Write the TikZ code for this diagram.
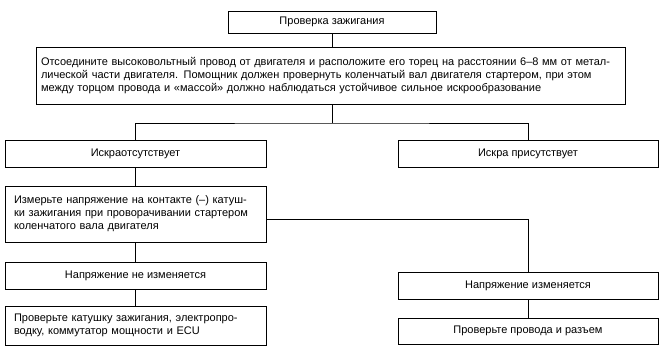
\documentclass[tikz,border=0pt]{standalone}
\usepackage{fontspec}
\setmainfont{Liberation Sans}
\begin{document}
\begin{tikzpicture}[x=1pt,y=-1pt,
  box/.style={draw, line width=0.9pt, rectangle, inner sep=0pt, font=\fontsize{11}{13}\selectfont},
  conn/.style={line width=0.8pt}]
\useasboundingbox[fill=white] (0,0) rectangle (664,354);
\node[box, minimum width=208pt, minimum height=22pt] (b1) at (332,22) {Проверка зажигания};
\node[box, minimum width=589pt, minimum height=57pt, text width=579pt, align=left] (b2) at (330.5,75.5)
 {Отсоедините высоковольтный провод от двигателя и расположите его торец на расстоянии 6–8 мм от метал-\\
 лической части двигателя. Помощник должен провернуть коленчатый вал двигателя стартером, при этом\\
 между торцом провода и «массой» должно наблюдаться устойчивое сильное искрообразование};
\node[box, minimum width=261pt, minimum height=27pt] (b3) at (135.5,153.5) {Искраотсутствует};
\node[box, minimum width=260pt, minimum height=27pt] (b3r) at (528,153.5) {Искра присутствует};
\node[box, minimum width=261pt, minimum height=56pt, text width=243pt, align=left] (b4) at (135.5,214)
 {Измерьте напряжение на контакте (–) катуш-\\ки зажигания при проворачивании стартером\\коленчатого вала двигателя};
\node[box, minimum width=261pt, minimum height=27pt] (b5) at (135.5,275.5) {Напряжение не изменяется};
\node[box, minimum width=261pt, minimum height=39pt, text width=243pt, align=left] (b6) at (135.5,325.5)
 {Проверьте катушку зажигания, электропро-\\водку, коммутатор мощности и ECU};
\node[box, minimum width=260pt, minimum height=27pt] (b7) at (528,285.5) {Напряжение изменяется};
\node[box, minimum width=260pt, minimum height=26pt] (b8) at (528,331) {Проверьте провода и разъем};
\coordinate (j) at (332,123);
\draw[conn] (b1.south) -- (b1.south |- b2.north);
\draw[conn] (b1.south |- b2.south) -- (j);
\draw[conn] (b3.north) |- (j) -| (b3r.north);
\draw[conn] (b3.south) -- (b4.north);
\draw[conn] ([yshift=-5pt]b4.east) -| (b7.north);
\draw[conn] (b4.south) -- (b5.north);
\draw[conn] (b5.south) -- (b6.north);
\draw[conn] (b7.south) -- (b8.north);
\end{tikzpicture}
\end{document}
